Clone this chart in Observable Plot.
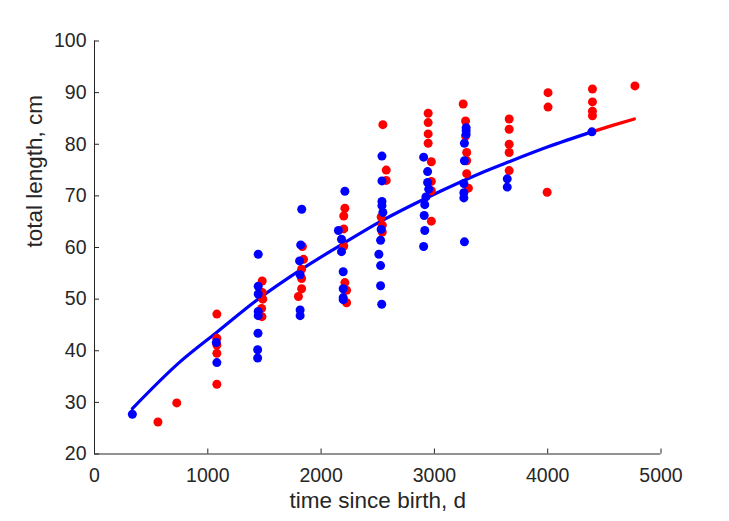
<!DOCTYPE html>
<html>
<head>
<meta charset="utf-8">
<script src="https://cdn.jsdelivr.net/npm/d3@7"></script>
<script src="https://cdn.jsdelivr.net/npm/@observablehq/plot@0.6"></script>
<style>
  html, body { margin: 0; padding: 0; background: #ffffff; }
  #chart svg { display: block; }
</style>
</head>
<body>
<div id="chart"></div>
<script>
// ---- data ----
const blueDays = [334, 1075, 1080, 1445, 1445, 1445, 1445, 1445, 1443, 1440, 1440,
  1829, 1820, 1810, 1815, 1815, 1815,
  2210, 2153, 2180, 2180, 2195, 2195, 2195, 2195,
  2537, 2537, 2537, 2537, 2545, 2530, 2525, 2510, 2525, 2525, 2535,
  2905, 2940, 2940, 2950, 2925, 2915, 2910, 2915, 2905,
  3280, 3280, 3280, 3265, 3265, 3260, 3260, 3260, 3265,
  3643, 3643, 4390];
const blueLength = [27.7, 41.6, 37.7, 58.7, 52.5, 51.0, 47.6, 46.8, 43.4, 40.2, 38.6,
  67.4, 60.5, 57.4, 54.7, 47.9, 46.8,
  70.9, 63.3, 61.6, 59.2, 55.3, 52.0, 50.3, 49.9,
  77.7, 72.9, 68.9, 68.1, 66.8, 63.5, 61.4, 58.7, 56.5, 52.6, 49.0,
  77.5, 74.7, 72.6, 71.3, 69.8, 68.3, 66.2, 63.3, 60.2,
  83.2, 82.6, 81.9, 80.2, 76.8, 72.4, 70.6, 69.6, 61.1,
  73.3, 71.7, 82.4];

const redDays = [560, 726, 1080, 1080, 1080, 1080, 1080,
  1480, 1480, 1485, 1475, 1478,
  1845, 1835, 1828, 1828, 1828, 1800,
  2210, 2200, 2200, 2200, 2210, 2225, 2225,
  2545, 2575, 2575, 2530, 2540, 2540,
  2945, 2945, 2945, 2945, 2973, 2973, 2973, 2973,
  3254, 3275, 3275, 3285, 3285, 3285, 3300,
  3660, 3660, 3660, 3660, 3660,
  4003, 4003, 3995,
  4395, 4395, 4395, 4395, 4770];
const redLength = [26.2, 29.9, 47.1, 42.4, 41.1, 39.5, 33.5,
  53.5, 51.3, 50.0, 48.2, 46.6,
  57.7, 60.2, 55.8, 54.0, 52.0, 50.5,
  67.6, 66.1, 63.6, 60.3, 53.2, 51.7, 49.3,
  83.8, 75.0, 73.0, 65.9, 64.3, 63.0,
  86.0, 84.2, 82.0, 80.2, 76.6, 72.8, 71.0, 65.1,
  87.8, 84.5, 81.6, 78.4, 76.8, 74.3, 71.5,
  84.9, 82.9, 80.0, 78.4, 74.9,
  90.0, 87.2, 70.7,
  90.7, 88.2, 86.4, 85.5, 91.3];

// fitted growth curve (blue part) and its extension (red part)
const fitDays   = [334, 752, 1080, 1445, 1829, 2198, 2537, 2920, 3053, 3407, 3658, 4003, 4390];
const fitLength = [28.8, 37.8, 43.6, 50.0, 55.8, 60.8, 65.2, 69.5, 70.9, 74.4, 76.6, 79.5, 82.4];
const extDays   = [4390, 4580, 4765];
const extLength = [82.4, 83.7, 84.9];

const xTicks = [0, 1000, 2000, 3000, 4000, 5000];
const yTicks = [20, 30, 40, 50, 60, 70, 80, 90, 100];

const xLabel = "time since birth, d";
const yLabel = "total length, cm";

// ---- tables built from the arrays ----
const blue = blueDays.map((d, i) => ({t: d, L: blueLength[i]}));
const red = redDays.map((d, i) => ({t: d, L: redLength[i]}));
const fit = fitDays.map((d, i) => ({t: d, L: fitLength[i]}));
const ext = extDays.map((d, i) => ({t: d, L: extLength[i]}));

const AX = "#262626";
const FONT = "'Liberation Sans', Arial, Helvetica, sans-serif";

const W = 729, H = 521, ML = 94, MR = 68.5, MT = 40.5, MB = 67.5;
// inward tick length (5 px) expressed in data units of each scale
const xTickLen = 5 * 5000 / (W - ML - MR);
const yTickLen = 5 * 80 / (H - MT - MB);

const chart = Plot.plot({
  width: W,
  height: H,
  marginLeft: ML,
  marginRight: MR,
  marginTop: MT,
  marginBottom: MB,
  style: {fontFamily: FONT, color: AX, background: "#ffffff", overflow: "visible"},
  x: {domain: [0, 5000]},
  y: {domain: [20, 100]},
  marks: [
    Plot.axisX(xTicks, {tickSize: 0, tickPadding: 14.5, fontSize: 19.5, fill: AX, label: null, tickFormat: d => String(d)}),
    Plot.axisY(yTicks, {tickSize: 0, tickPadding: 8, fontSize: 19.5, fill: AX, label: null, tickFormat: d => String(d)}),
    Plot.ruleX(xTicks, {x: d => d, y1: 20, y2: 20 + yTickLen, stroke: AX, strokeWidth: 1}),
    Plot.ruleY(yTicks, {y: d => d, x1: 0, x2: xTickLen, stroke: AX, strokeWidth: 1}),
    Plot.ruleY([20], {stroke: AX, strokeWidth: 1}),
    Plot.ruleX([0], {stroke: AX, strokeWidth: 1}),
    Plot.line(ext, {x: "t", y: "L", stroke: "#ff0000", strokeWidth: 3.2, curve: "monotone-x"}),
    Plot.line(fit, {x: "t", y: "L", stroke: "#0000ff", strokeWidth: 3.2, curve: "monotone-x"}),
    Plot.dot(red, {x: "t", y: "L", r: 4.5, fill: "#ff0000", stroke: "none"}),
    Plot.dot(blue, {x: "t", y: "L", r: 4.5, fill: "#0000ff", stroke: "none"}),
    Plot.text([xLabel], {frameAnchor: "bottom", dy: 54, fontSize: 22.5, fill: AX, text: d => d}),
    Plot.text([yLabel], {frameAnchor: "left", rotate: -90, dx: -59.5, fontSize: 22.5, fill: AX, text: d => d})
  ]
});

document.getElementById("chart").appendChild(chart);
</script>
</body>
</html>
